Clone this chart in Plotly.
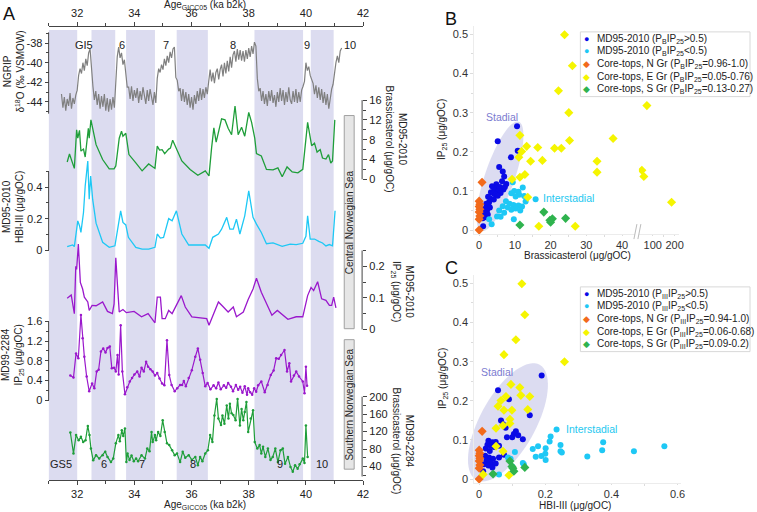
import numpy as np
import plotly.graph_objects as go

W, H = 757, 512
FONT = "Arial, 'Liberation Sans', sans-serif"
AX = '#444444'
LIGHT = '#dcdcdc'

# ---------------- panel A data ----------------
# NGRIP d18O on a regular 0.05 ka grid starting at 31.45 ka b2k
ngrip_start, ngrip_step = 31.45, 0.05
ngrip_d18o = [
    -43.2, -44.6, -43.5, -44.9, -43.7, -44.4, -43.1, -44.7, -43.6, -44.2, -43.3, -42.8,
    -41.3, -40.6, -41.1, -40.0, -40.8, -39.6, -40.3, -39.0, -38.6, -40.9,
    -42.4, -43.8, -42.9, -44.3, -43.2, -44.7, -43.4, -44.5, -43.2, -44.9, -43.6, -45.0,
    -43.7, -44.8, -43.5, -44.6,
    -42.0, -39.4, -38.4, -39.5, -39.0, -40.2, -39.7, -40.9, -42.5,
    -42.5, -43.7, -42.4, -43.9, -42.8, -43.6, -42.6, -44.1, -42.9, -43.8, -42.5, -43.5,
    -44.2, -42.8, -43.9, -42.7, -43.7, -44.3, -43.0, -44.1,
    -41.6, -40.6, -41.0, -40.2, -40.7, -39.6, -40.3, -39.3, -40.0, -38.9, -39.5, -38.6,
    -38.4, -41.5,
    -41.8, -42.9, -42.6, -43.9, -42.7, -44.0, -43.0, -44.3, -43.2, -44.6, -43.5, -44.8,
    -43.3, -44.2, -42.9, -43.9, -42.6, -43.8, -42.7, -43.6, -42.5, -43.2, -41.9,
    -40.7, -41.9, -41.0, -42.1, -41.0, -40.6, -41.7, -40.7, -40.2, -41.4, -40.0, -41.1,
    -39.8, -40.9, -39.4, -40.5, -39.2, -38.8, -39.9, -38.6, -39.7, -38.7, -39.8, -38.8,
    -39.9, -38.7, -39.6, -38.5, -39.4, -38.3, -39.1, -37.9, -38.3,
    -41.6, -42.9, -42.6, -43.9, -42.9, -44.2, -43.2, -44.4, -42.9, -43.9, -42.8, -44.1,
    -43.3, -44.5, -43.0, -44.0, -42.6, -43.9, -42.8, -44.3, -43.0, -44.0, -42.5, -43.8,
    -44.2, -42.9, -44.0, -42.7, -44.1, -43.0, -44.0, -42.8, -42.4, -41.9,
    -40.0, -40.8, -40.4, -41.3, -41.7,
    -42.1, -43.2, -42.3, -43.6, -42.5, -43.8, -42.7, -44.1, -43.0, -44.3, -43.2, -44.7,
    -43.4, -42.7, -42.2,
    -40.8, -40.0, -39.3, -40.0, -38.8, -38.5,
]
ngrip_age = [round(ngrip_start + ngrip_step * i, 2) for i in range(len(ngrip_d18o))]

md95_bras_age = [31.65, 31.73, 31.90, 31.98, 32.02, 32.08, 32.13, 32.22, 32.28, 32.39, 32.42, 32.48,
                 32.66, 32.89, 33.12, 33.29, 33.35, 33.47, 33.55, 33.60, 33.70, 33.81, 34.05, 34.27,
                 34.50, 34.72, 34.80, 34.88, 34.97, 35.06, 35.20, 35.26, 35.34, 35.43, 35.66, 35.95,
                 36.22, 36.48, 36.61, 36.70, 36.78, 36.86, 36.95, 37.05, 37.17, 37.28, 37.40, 37.52,
                 37.63, 37.75, 37.86, 38.00, 38.10, 38.21, 38.27, 38.44, 38.62, 38.85, 39.02, 39.17,
                 39.34, 39.52, 39.72, 39.89, 40.06, 40.20, 40.30, 40.39, 40.50, 40.58, 40.70, 40.79,
                 40.87, 40.93, 41.01]
md95_bras = [3.5, 5.1, 2.2, 10.0, 8.3, 9.9, 5.7, 6.1, 4.5, 10.3, 8.3, 12.0,
             7.0, 4.0, 2.1, 2.1, 2.7, 8.3, 9.7, 8.7, 9.3, 5.0, 3.3, 1.7,
             3.1, 2.2, 6.7, 5.9, 6.0, 5.2, 6.1, 6.3, 7.9, 6.7, 3.7, 2.0,
             0.8, 1.7, 0.7, 6.3, 10.4, 7.5, 10.0, 12.2, 12.0, 10.3, 9.0, 14.8,
             9.0, 10.5, 8.7, 13.5, 11.5, 8.3, 5.2, 4.7, 2.0, 1.9, 2.3, 0.5,
             2.5, 1.5, 1.3, 2.0, 11.5, 6.8, 7.3, 5.5, 6.0, 4.3, 4.1, 5.0,
             3.3, 3.7, 12.0]

md95_hbi_age = [31.65, 31.84, 31.90, 31.96, 32.02, 32.08, 32.13, 32.22, 32.28, 32.37, 32.42, 32.47,
                32.54, 32.66, 32.89, 33.12, 33.32, 33.52, 33.60, 33.70, 33.79, 34.05, 34.27, 34.50,
                34.72, 34.80, 34.91, 35.02, 35.12, 35.20, 35.32, 35.47, 35.66, 35.90, 36.25, 36.48,
                36.61, 36.74, 36.94, 37.05, 37.23, 37.34, 37.46, 37.57, 37.69, 37.86, 38.00, 38.15,
                38.27, 38.44, 38.62, 38.85, 39.17, 39.45, 39.66, 39.89, 40.00, 40.06, 40.15, 40.30,
                40.45, 40.58, 40.70, 40.82, 40.93, 41.02]
md95_hbi = [0.021, 0.032, 0.022, 0.091, 0.186, 0.155, 0.112, 0.239, 0.408, 0.567, 0.324, 0.472,
            0.324, 0.171, 0.049, 0.017, 0.027, 0.250, 0.176, 0.160, 0.081, 0.017, 0.006, 0.006,
            0.017, 0.102, 0.076, 0.080, 0.155, 0.200, 0.186, 0.250, 0.102, 0.032, 0.032, 0.032,
            0.011, 0.081, 0.102, 0.133, 0.208, 0.133, 0.133, 0.197, 0.102, 0.218, 0.377, 0.208,
            0.165, 0.112, 0.040, 0.045, 0.023, 0.038, 0.035, 0.043, 0.087, 0.218, 0.070, 0.070,
            0.055, 0.045, 0.026, 0.035, 0.027, 0.250]

md95_ip25_age = [31.65, 31.79, 31.90, 31.95, 31.98, 32.04, 32.11, 32.19, 32.25, 32.37, 32.42, 32.52,
                 32.66, 32.89, 33.06, 33.23, 33.29, 33.35, 33.41, 33.47, 33.60, 33.72, 33.99, 34.25,
                 34.48, 34.72, 34.80, 34.91, 34.97, 35.08, 35.20, 35.32, 35.64, 35.78, 36.01, 36.24,
                 36.53, 36.61, 36.76, 36.94, 37.08, 37.28, 37.46, 37.57, 37.81, 37.98, 38.15, 38.27,
                 38.44, 38.62, 38.81, 39.00, 39.20, 39.37, 39.66, 39.89, 40.06, 40.18, 40.27, 40.41,
                 40.55, 40.70, 40.82, 40.90, 40.97, 41.05]
md95_ip25 = [0.099, 0.109, 0.050, 0.200, 0.190, 0.270, 0.149, 0.128, 0.102, 0.087, 0.060, 0.076,
             0.075, 0.087, 0.057, 0.050, 0.081, 0.227, 0.138, 0.055, 0.063, 0.053, 0.057, 0.040,
             0.050, 0.021, 0.102, 0.102, 0.034, 0.034, 0.060, 0.050, 0.107, 0.071, 0.040, 0.038,
             0.034, 0.013, 0.045, 0.087, 0.074, 0.055, 0.071, 0.040, 0.055, 0.095, 0.128, 0.162,
             0.118, 0.081, 0.045, 0.060, 0.045, 0.032, 0.040, 0.040, 0.107, 0.133, 0.123, 0.151,
             0.097, 0.092, 0.076, 0.076, 0.102, 0.068]

md99_ip25_age = [31.76, 31.87, 31.96, 32.04, 32.13, 32.19, 32.25, 32.33, 32.42, 32.52, 32.60, 32.68,
                 32.75, 32.83, 32.91, 32.99, 33.06, 33.14, 33.21, 33.29, 33.35, 33.41, 33.45, 33.52,
                 33.58, 33.67, 33.75, 33.84, 33.92, 34.00, 34.10, 34.18, 34.25, 34.33, 34.41, 34.48,
                 34.56, 34.64, 34.72, 34.80, 34.88, 34.97, 35.05, 35.14, 35.22, 35.30, 35.41, 35.50,
                 35.60, 35.67, 35.73, 35.80, 35.90, 36.01, 36.13, 36.22, 36.30, 36.39, 36.48, 36.56,
                 36.66, 36.77, 36.86, 36.94, 37.02, 37.13, 37.21, 37.28, 37.38, 37.45, 37.55, 37.63,
                 37.70, 37.78, 37.86, 37.94, 37.98, 38.05, 38.12, 38.19, 38.26, 38.33, 38.44, 38.56,
                 38.66, 38.77, 38.87, 38.96, 39.05, 39.13, 39.25, 39.34, 39.42, 39.48, 39.58, 39.66,
                 39.76, 39.89, 39.95, 40.00, 40.04]
md99_ip25 = [0.50, 0.46, 0.95, 0.85, 1.73, 1.26, 0.88, 0.48, 0.18, 0.34, 0.24, 0.58,
             0.62, 0.99, 1.05, 0.97, 1.06, 1.09, 0.65, 0.66, 0.58, 0.92, 0.52, 1.52,
             0.58, 0.12, 0.26, 0.38, 0.45, 0.52, 0.58, 0.48, 0.66, 0.58, 0.78, 0.68,
             0.63, 0.58, 0.50, 0.55, 0.44, 0.34, 0.30, 1.22, 0.51, 0.31, 0.18, 0.24,
             0.31, 0.31, 0.39, 0.28, 0.45, 0.61, 0.88, 1.05, 0.82, 0.55, 0.28, 0.35,
             0.22, 0.30, 0.24, 0.36, 0.22, 0.30, 0.25, 0.35, 0.27, 0.18, 0.31, 0.21,
             0.27, 0.15, 0.28, 0.11, 0.24, 0.16, 0.11, 0.24, 0.17, 0.30, 0.38, 0.16,
             0.31, 0.51, 0.60, 0.85, 0.84, 0.92, 1.02, 0.58, 0.75, 0.38, 0.50, 0.58,
             0.48, 0.38, 0.14, 0.68, 0.29]

md99_bras_age = [31.76, 31.87, 31.96, 32.05, 32.13, 32.21, 32.29, 32.37, 32.43, 32.48, 32.56, 32.66,
                 32.77, 32.89, 32.98, 33.06, 33.18, 33.26, 33.35, 33.44, 33.49, 33.56, 33.61, 33.67,
                 33.72, 33.76, 33.83, 33.90, 33.98, 34.06, 34.13, 34.25, 34.37, 34.45, 34.53, 34.60,
                 34.64, 34.72, 34.76, 34.83, 34.91, 34.99, 35.06, 35.14, 35.22, 35.32, 35.41, 35.49,
                 35.60, 35.69, 35.78, 35.90, 36.01, 36.13, 36.22, 36.30, 36.38, 36.48, 36.57, 36.65,
                 36.73, 36.80, 36.88, 36.94, 37.03, 37.08, 37.15, 37.23, 37.29, 37.34, 37.40, 37.46,
                 37.54, 37.61, 37.69, 37.75, 37.81, 37.86, 37.92, 37.98, 38.07, 38.15, 38.21, 38.30,
                 38.38, 38.44, 38.50, 38.58, 38.67, 38.76, 38.84, 38.93, 39.02, 39.11, 39.19, 39.27,
                 39.37, 39.46, 39.54, 39.62, 39.71, 39.78, 39.89, 39.95, 40.00, 40.06]
md99_bras = [118, 70, 112, 100, 108, 96, 100, 133, 112, 81, 54, 66,
             58, 66, 74, 62, 50, 58, 93, 112, 98, 123, 110, 127,
             50, 70, 55, 65, 52, 58, 52, 66, 58, 81, 75, 119,
             96, 112, 100, 119, 110, 146, 119, 93, 89, 77, 66, 70,
             50, 74, 60, 66, 55, 62, 43, 62, 52, 70, 77, 112,
             96, 157, 195, 150, 135, 157, 138, 180, 150, 184, 162, 158,
             146, 195, 134, 172, 146, 165, 188, 119, 150, 169, 96, 81,
             89, 70, 85, 62, 81, 55, 62, 81, 50, 77, 81, 46,
             62, 39, 28, 43, 35, 45, 58, 48, 134, 62]

# stadial (GS) intervals, ka b2k
gs_start = [31.0, 32.50, 33.71, 35.48, 38.20, 40.17]
gs_end = [32.0, 33.33, 34.72, 36.57, 39.90, 40.97]
gi_labels = ['GI5', '6', '7', '8', '9', '10']
gi_label_x = [32.25, 33.55, 35.10, 37.45, 40.05, 41.55]
gs_labels = ['GS5', '6', '7', '8', '9', '10']
gs_label_x = [31.45, 32.95, 34.25, 36.05, 39.10, 40.55]

# ---------------- panel B data (brassicasterol vs IP25) ----------------
b_blue_bras = [10.6, 5.2, 10.8, 8.9, 5.6, 6.6, 7.0, 6.4, 7.6, 4.8, 3.6, 5.0, 5.8, 6.8, 7.2, 4.2, 5.4, 3.3, 4.0,
               4.6, 6.0, 5.2, 2.5, 3.2, 4.1, 2.8, 2.0, 2.6, 3.0, 1.6, 2.2, 1.1, 1.8, 2.4, 1.4, 2.0, 1.0, 1.1]
b_blue_ip25 = [0.265, 0.227, 0.203, 0.186, 0.161, 0.150, 0.137, 0.125, 0.118, 0.117, 0.112, 0.108, 0.110,
               0.104, 0.110, 0.102, 0.100, 0.097, 0.094, 0.090, 0.095, 0.088, 0.085, 0.080, 0.078, 0.072,
               0.067, 0.062, 0.058, 0.055, 0.050, 0.047, 0.043, 0.040, 0.036, 0.033, 0.030, 0.010]
b_cyan_bras = [9.4, 12.2, 9.8, 11.0, 9.0, 11.2, 12.6, 10.2, 15.8, 7.5, 13.0, 8.5, 9.6, 11.0, 6.6, 8.0, 12.0,
               10.2, 5.6, 9.0, 11.5, 7.0, 5.0, 6.0, 9.7, 2.8, 3.5]
b_cyan_ip25 = [0.122, 0.109, 0.100, 0.098, 0.094, 0.090, 0.087, 0.086, 0.079, 0.074, 0.073, 0.067, 0.064,
               0.063, 0.061, 0.058, 0.060, 0.055, 0.050, 0.052, 0.050, 0.044, 0.035, 0.034, 0.028, 0.028, 0.015]
b_north_bras = [0.8, 0.0, 0.2, 0.0, 0.2, 0.0, 0.2, 0.0, 0.0]
b_north_ip25 = [0.122, 0.074, 0.066, 0.060, 0.053, 0.046, 0.036, 0.028, 0.0]
b_east_bras = [23.9, 26.1, 22.2, 25.1, 73, 11.4, 13.3, 16.4, 11.9, 11.1, 14.4, 17.7, 21.1, 23.0, 25.3, 37.5,
               33.0, 33.0, 12.8, 11.4, 9.2, 13.6, 50, 59, 186, 16.7, 26.9]
b_east_ip25 = [0.499, 0.420, 0.356, 0.300, 0.318, 0.242, 0.214, 0.211, 0.201, 0.186, 0.176, 0.178, 0.209,
               0.209, 0.229, 0.234, 0.176, 0.148, 0.142, 0.135, 0.130, 0.084, 0.153, 0.137, 0.071, 0.010, 0.010]
b_south_bras = [18.1, 20.5, 20.0, 19.8, 24.2, 11.4]
b_south_ip25 = [0.046, 0.029, 0.020, 0.025, 0.030, 0.013]

# ---------------- panel C data (HBI-III vs IP25) ----------------
c_blue_hbi = [0.189, 0.057, 0.153, 0.066, 0.072, 0.080, 0.111, 0.105, 0.118, 0.100, 0.084, 0.132, 0.090,
              0.028, 0.040, 0.050, 0.025, 0.035, 0.045, 0.020, 0.032, 0.060, 0.018, 0.030, 0.042, 0.022,
              0.035, 0.050, 0.015, 0.028, 0.040, 0.060, 0.075, 0.012]
c_blue_ip25 = [0.265, 0.227, 0.163, 0.150, 0.140, 0.131, 0.122, 0.115, 0.112, 0.107, 0.107, 0.102, 0.204,
               0.098, 0.094, 0.095, 0.088, 0.085, 0.082, 0.078, 0.072, 0.085, 0.060, 0.055, 0.052, 0.048,
               0.042, 0.040, 0.038, 0.035, 0.030, 0.055, 0.062, 0.020]
c_cyan_hbi = [0.234, 0.216, 0.213, 0.246, 0.162, 0.178, 0.201, 0.246, 0.250, 0.375, 0.372, 0.468, 0.560,
              0.327, 0.171, 0.188, 0.200, 0.201, 0.108, 0.087, 0.095, 0.132, 0.135, 0.100, 0.060]
c_cyan_ip25 = [0.127, 0.109, 0.096, 0.087, 0.077, 0.084, 0.079, 0.071, 0.068, 0.094, 0.074, 0.071, 0.084,
               0.058, 0.057, 0.059, 0.065, 0.049, 0.069, 0.055, 0.052, 0.041, 0.038, 0.032, 0.012]
c_north_hbi = [0.009, 0.0, 0.002, 0.0, 0.002, 0.0, 0.002, 0.0, 0.0]
c_north_ip25 = [0.122, 0.074, 0.066, 0.060, 0.053, 0.046, 0.036, 0.028, 0.0]
c_east_hbi = [0.129, 0.138, 0.111, 0.075, 0.258, 0.096, 0.123, 0.126, 0.153, 0.066, 0.081, 0.057, 0.075,
              0.099, 0.147, 0.093, 0.093, 0.072, 0.051, 0.051, 0.072, 0.090, 0.012]
c_east_ip25 = [0.499, 0.420, 0.356, 0.318, 0.300, 0.242, 0.234, 0.214, 0.211, 0.201, 0.211, 0.186, 0.176,
               0.176, 0.178, 0.153, 0.142, 0.137, 0.130, 0.084, 0.071, 0.010, 0.012]
c_south_hbi = [0.093, 0.102, 0.105, 0.099, 0.138, 0.042]
c_south_ip25 = [0.046, 0.028, 0.020, 0.032, 0.030, 0.013]

legend_b = ['MD95-2010 (P<sub>B</sub>IP<sub>25</sub>&gt;0.5)',
            'MD95-2010 (P<sub>B</sub>IP<sub>25</sub>&lt;0.5)',
            'Core-tops, N Gr (P<sub>B</sub>IP<sub>25</sub>=0.96-1.0)',
            'Core-tops, E Gr (P<sub>B</sub>IP<sub>25</sub>=0.05-0.76)',
            'Core-tops, S Gr (P<sub>B</sub>IP<sub>25</sub>=0.13-0.27)']
legend_c = ['MD95-2010 (P<sub>III</sub>IP<sub>25</sub>&gt;0.5)',
            'MD95-2010 (P<sub>III</sub>IP<sub>25</sub>&lt;0.5)',
            'Core-tops, N Gr (P<sub>III</sub>IP<sub>25</sub>=0.94-1.0)',
            'Core-tops, E Gr (P<sub>III</sub>IP<sub>25</sub>=0.06-0.68)',
            'Core-tops, S Gr (P<sub>III</sub>IP<sub>25</sub>=0.09-0.2)']

BLUE, CYAN, ORANGE, YELLOW, GREEN = '#0a0ae6', '#1ec8f5', '#f26a1b', '#f5f500', '#2fb34e'
GRAY, LGREEN, LCYAN, PURPLE = '#808080', '#1f9e3a', '#1ec8f5', '#9a18cc'


def px(p):
    return p / W


def py(p):
    return 1 - p / H


def lin(va, pa, vb, pb, p0, p1):
    # axis range so that value va sits at pixel pa and vb at pb
    f = lambda p: va + (p - pa) * (vb - va) / (pb - pa)
    return [f(p0), f(p1)]


fig = go.Figure()

# ---------- panel A traces ----------
fig.add_trace(go.Scatter(x=ngrip_age, y=ngrip_d18o, xaxis='x', yaxis='y', mode='lines',
                         line=dict(color=GRAY, width=1.2)))
fig.add_trace(go.Scatter(x=md95_bras_age, y=md95_bras, xaxis='x', yaxis='y2', mode='lines',
                         line=dict(color=LGREEN, width=1.3)))
fig.add_trace(go.Scatter(x=md95_hbi_age, y=md95_hbi, xaxis='x', yaxis='y3', mode='lines',
                         line=dict(color=LCYAN, width=1.3)))
fig.add_trace(go.Scatter(x=md95_ip25_age, y=md95_ip25, xaxis='x', yaxis='y4', mode='lines',
                         line=dict(color=PURPLE, width=1.3)))
fig.add_trace(go.Scatter(x=md99_ip25_age, y=md99_ip25, xaxis='x2', yaxis='y5', mode='lines+markers',
                         line=dict(color=PURPLE, width=1.2), marker=dict(size=2.5, color=PURPLE)))
fig.add_trace(go.Scatter(x=md99_bras_age, y=md99_bras, xaxis='x2', yaxis='y6', mode='lines+markers',
                         line=dict(color=LGREEN, width=1.2), marker=dict(size=2.5, color=LGREEN)))


# ---------- panels B and C traces ----------
def pts(x, y, color, symbol, xa, ya):
    size = 6 if symbol == 'circle' else 7
    fig.add_trace(go.Scatter(x=x, y=y, xaxis=xa, yaxis=ya, mode='markers',
                             marker=dict(color=color, symbol=symbol, size=size, line=dict(width=0))))


BREAK = 44
for xs, ys, col, sym in [(b_blue_bras, b_blue_ip25, BLUE, 'circle'),
                         (b_cyan_bras, b_cyan_ip25, CYAN, 'circle'),
                         (b_north_bras, b_north_ip25, ORANGE, 'diamond'),
                         (b_east_bras, b_east_ip25, YELLOW, 'diamond'),
                         (b_south_bras, b_south_ip25, GREEN, 'diamond')]:
    lo = [(a, b) for a, b in zip(xs, ys) if a <= BREAK]
    hi = [(a, b) for a, b in zip(xs, ys) if a > BREAK]
    pts([a for a, _ in lo], [b for _, b in lo], col, sym, 'x3', 'y7')
    if hi:
        pts([a for a, _ in hi], [b for _, b in hi], col, sym, 'x4', 'y7')

for xs, ys, col, sym in [(c_blue_hbi, c_blue_ip25, BLUE, 'circle'),
                         (c_cyan_hbi, c_cyan_ip25, CYAN, 'circle'),
                         (c_north_hbi, c_north_ip25, ORANGE, 'diamond'),
                         (c_east_hbi, c_east_ip25, YELLOW, 'diamond'),
                         (c_south_hbi, c_south_ip25, GREEN, 'diamond')]:
    pts(xs, ys, col, sym, 'x5', 'y8')

# ---------- axes ----------
tickfont = dict(size=11, color='#222222')
A_TOP, A_BOT = 30, 482
A_dom = [py(A_BOT), py(A_TOP)]


def a_yaxis(rng, side, pos, major, minor, labels):
    return dict(domain=A_dom, range=rng, anchor='free', position=px(pos), side=side,
                tickmode='array', tickvals=major, ticktext=labels, ticks='outside', ticklen=4,
                tickcolor=AX, minor=dict(tickmode='array', tickvals=minor, ticks='outside',
                                         ticklen=2.5, tickcolor=AX),
                showline=False, showgrid=False, zeroline=False, tickfont=tickfont, fixedrange=True)


def a_xaxis(pos, side):
    return dict(domain=[px(49), px(366)], range=[31, 42], anchor='free', position=py(pos), side=side,
                tickmode='array', tickvals=[32, 34, 36, 38, 40, 42], ticks='outside', ticklen=4,
                tickcolor=AX, minor=dict(tickmode='array', tickvals=[31, 33, 35, 37, 39, 41],
                                         ticks='outside', ticklen=2.5, tickcolor=AX),
                showline=True, linecolor=AX, linewidth=1, showgrid=False, zeroline=False,
                tickfont=tickfont)


def s_axis(dom, rng, anchor, major, labels, minor, tl=3):
    return dict(domain=dom, range=rng, anchor=anchor, tickmode='array', tickvals=major, ticktext=labels,
                ticks='outside', ticklen=tl, tickcolor=LIGHT,
                minor=dict(tickmode='array', tickvals=minor, ticks='outside', ticklen=2, tickcolor=LIGHT),
                showline=True, linecolor='#ececec', showgrid=False, zeroline=False,
                tickfont=dict(size=11, color='#333333'))


ip_ticks = [0, 0.1, 0.2, 0.3, 0.4, 0.5]
ip_labels = ['0', '0.1', '0.2', '0.3', '0.4', '0.5']
ip_minor = [0.05, 0.15, 0.25, 0.35, 0.45]

fig.update_layout(
    width=W, height=H, margin=dict(l=0, r=0, t=0, b=0), showlegend=False,
    paper_bgcolor='white', plot_bgcolor='rgba(0,0,0,0)',
    font=dict(family=FONT, size=11, color='#222222'),
    xaxis=a_xaxis(26, 'top'),
    xaxis2=a_xaxis(482, 'bottom'),
    yaxis=a_yaxis(lin(-38, 43.3, -44, 102.3, A_BOT, A_TOP), 'left', 49,
                  [-44, -42, -40, -38], [-45, -43, -41, -39, -37], ['-44', '-42', '-40', '-38']),
    yaxis2=a_yaxis(lin(0, 180, 16, 100.5, A_BOT, A_TOP), 'right', 365,
                   [0, 4, 8, 12, 16], [2, 6, 10, 14], ['0', '4', '8', '12', '16']),
    yaxis3=a_yaxis(lin(0, 251, 0.4, 188, A_BOT, A_TOP), 'left', 49,
                   [0, 0.2, 0.4], [0.1, 0.3, 0.5], ['0', '0.2', '0.4']),
    yaxis4=a_yaxis(lin(0, 330.7, 0.2, 267.3, A_BOT, A_TOP), 'right', 365,
                   [0, 0.1, 0.2], [0.05, 0.15, 0.25], ['0', '0.1', '0.2']),
    yaxis5=a_yaxis(lin(0, 401.7, 1.6, 322.7, A_BOT, A_TOP), 'left', 49,
                   [0, 0.4, 0.8, 1.2, 1.6], [0.2, 0.6, 1.0, 1.4], ['0', '0.4', '0.8', '1.2', '1.6']),
    yaxis6=a_yaxis(lin(200, 398.3, 40, 468.3, A_BOT, A_TOP), 'right', 365,
                   [40, 80, 120, 160, 200], [20, 60, 100, 140, 180], ['40', '80', '120', '160', '200']),
    xaxis3=s_axis([px(478), px(640)], lin(0, 483, 40, 627, 478, 640), 'y7',
                  [0, 10, 20, 30, 40], ['0', '10', '20', '30', '40'], [5, 15, 25, 35], tl=1),
    xaxis4=s_axis([px(644), px(684)], lin(100, 658, 200, 680, 644, 684), 'y7',
                  [100, 200], ['100', '200'], [150], tl=1),
    yaxis7=s_axis([py(235), py(26)], lin(0, 231, 0.5, 34.5, 235, 26), 'x3', ip_ticks, ip_labels, ip_minor),
    xaxis5=s_axis([px(478), px(686)], lin(0, 483, 0.6, 683, 478, 686), 'y8',
                  [0, 0.2, 0.4, 0.6], ['0', '0.2', '0.4', '0.6'], [0.1, 0.3, 0.5], tl=1),
    yaxis8=s_axis([py(485), py(276)], lin(0, 481, 0.5, 284.5, 485, 276), 'x5', ip_ticks, ip_labels, ip_minor),
)

# ---------- shapes ----------
shapes = []
for s, e in zip(gs_start, gs_end):
    shapes.append(dict(type='rect', xref='x', yref='paper', x0=s, x1=e, y0=py(A_BOT), y1=py(A_TOP),
                       fillcolor='#dcdcf0', line=dict(width=0), layer='below'))

# axis spines for the stacked records (only over the labelled span)
for ref, pos, lo, hi in [('y', 49, -45.2, -36.9), ('y2', 365, 0, 16), ('y3', 49, 0, 0.5),
                         ('y4', 365, 0, 0.25), ('y5', 49, 0, 1.6), ('y6', 365, 17, 200)]:
    shapes.append(dict(type='line', xref='paper', yref=ref, x0=px(pos), x1=px(pos), y0=lo, y1=hi,
                       line=dict(color=AX, width=1)))

# region boxes
for top, bot in [(116, 330), (341, 471)]:
    shapes.append(dict(type='rect', xref='paper', yref='paper', x0=px(347), x1=px(357),
                       y0=py(bot), y1=py(top), fillcolor='#e6e6e6', line=dict(color='#a0a0a0', width=1)))


def ellipse_path(cx, cy, a, b, deg, n=72):
    t = np.linspace(0, 2 * np.pi, n)
    th = np.radians(deg)
    xs = cx + a * np.cos(t) * np.cos(th) - b * np.sin(t) * np.sin(th)
    ys = cy - (a * np.cos(t) * np.sin(th) + b * np.sin(t) * np.cos(th))
    return 'M ' + ' L '.join(f'{px(x):.5f},{py(y):.5f}' for x, y in zip(xs, ys)) + ' Z'


for cx, cy, a, b, deg in [(504, 177, 58, 15, 71), (512, 424, 66, 28, 61)]:
    shapes.append(dict(type='path', xref='paper', yref='paper', path=ellipse_path(cx, cy, a, b, deg),
                       fillcolor='rgba(196,196,232,0.6)', line=dict(width=0), layer='below'))

# axis break marks on panel B
for x0 in [639, 643]:
    shapes.append(dict(type='line', xref='paper', yref='paper', x0=px(x0), x1=px(x0 + 3),
                       y0=py(240), y1=py(225), line=dict(color='#bbbbbb', width=1)))

# legend frames
for top, bot in [(32, 97), (288, 353)]:
    shapes.append(dict(type='rect', xref='paper', yref='paper', x0=px(585), x1=px(756),
                       y0=py(bot), y1=py(top), fillcolor='white', line=dict(color='#d8d8d8', width=1)))

fig.update_layout(shapes=shapes)

# ---------- annotations ----------
ann = []


def note(text, x, y, size=10, color='#222222', angle=0, xanchor='center', yanchor='middle'):
    ann.append(dict(text=text, x=px(x), y=py(y), xref='paper', yref='paper', showarrow=False,
                    textangle=angle, font=dict(size=size, color=color, family=FONT),
                    xanchor=xanchor, yanchor=yanchor))


note('A', 9, 14, size=18, color='#111111')
note('B', 455, 19, size=18, color='#111111')
note('C', 455, 269, size=18, color='#111111')

for lab, ax_ in zip(gi_labels, gi_label_x):
    ann.append(dict(text=lab, x=ax_, y=py(37), xref='x', yref='paper', showarrow=False,
                    font=dict(size=11, color='#222222', family=FONT)))
for lab, ax_ in zip(gs_labels, gs_label_x):
    ann.append(dict(text=lab, x=ax_, y=py(474), xref='x', yref='paper', showarrow=False,
                    font=dict(size=11, color='#222222', family=FONT)))

age_title = 'Age<sub>GICC05</sub> (ka b2k)'
note(age_title, 207, -3, size=10, yanchor='top')
note(age_title, 207, 515, size=10, yanchor='bottom')

note('NGRIP<br>δ<sup>18</sup>O (‰ VSMOW)', 14, 72, angle=-90)
note('MD95-2010<br>HBI-III (μg/gOC)', 13, 208, angle=-90)
note('MD99-2284<br>IP<sub>25</sub> (μg/gOC)', 13, 356, angle=-90)
note('MD95-2010<br>Brassicasterol (μg/gOC)', 399, 140, angle=90)
note('MD95-2010<br>IP<sub>25</sub> (μg/gOC)', 405, 293, angle=90)
note('MD99-2284<br>Brassicasterol (μg/gOC)', 406, 443, angle=90)

note('Central Norwegian Sea', 352, 223, angle=-90)
note('Southern Norwegian Sea', 352, 406, angle=-90)

note('IP<sub>25</sub> (μg/gOC)', 446, 130, angle=-90)
note('Brassicasterol (μg/gOC)', 582, 257)
note('IP<sub>25</sub> (μg/gOC)', 446, 380, angle=-90)
note('HBI-III (μg/gOC)', 580, 507)

note('Stadial', 506, 117, size=10.5, color='#7b7bd0')
note('Interstadial', 573, 199, size=10.5, color='#1ec8f0')
note('Stadial', 501, 373, size=10.5, color='#7b7bd0')
note('Interstadial', 596, 431, size=10.5, color='#1ec8f0')

glyphs = [('●', BLUE), ('●', CYAN), ('◆', ORANGE), ('◆', YELLOW), ('◆', GREEN)]
for labels, y0 in [(legend_b, 39), (legend_c, 295)]:
    for i, (lab, (g, col)) in enumerate(zip(labels, glyphs)):
        yy = y0 + i * 12.6
        note(f'<span style="color:{col}">{g}</span>', 591, yy, size=9)
        note(lab, 600, yy, size=10, xanchor='left')

fig.update_layout(annotations=ann)

# the page body has a default 8px margin; drop it so the figure sits at the window origin
fig.write_html("out.html", config={'displayModeBar': False},
               post_script="document.body.style.margin='0';")
